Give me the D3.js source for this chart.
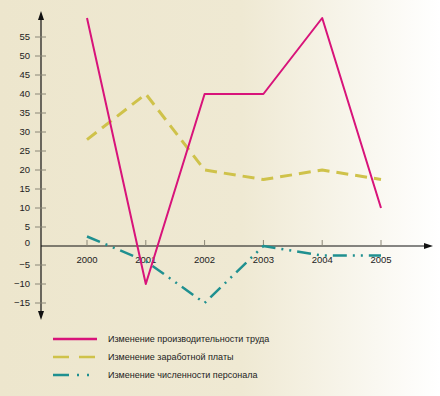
<!DOCTYPE html>
<html>
<head>
<meta charset="utf-8">
<script src="https://cdn.jsdelivr.net/npm/d3@7/dist/d3.min.js"></script>
<style>
  body { margin: 0; }
  svg { display: block; font-family: "Liberation Sans", Arial, sans-serif; }
</style>
</head>
<body>
<svg width="440" height="396"></svg>
<script>
var years = [2000, 2001, 2002, 2003, 2004, 2005];
var productivity = [60, -10, 40, 40, 60, 10];
var wages = [28, 40, 20, 17.5, 20, 17.5];
var personnel = [2.5, -4, -15, 0, -2.5, -2.5];
var yTicks = [-15, -10, -5, 0, 5, 10, 15, 20, 25, 30, 35, 40, 45, 50, 55];
var legendLabels = [
  'Изменение производительности труда',
  'Изменение заработной платы',
  'Изменение численности персонала'
];

var svg = d3.select('svg');

// background: beige fading to white on the right
var defs = svg.append('defs');
var grad = defs.append('linearGradient').attr('id', 'bg').attr('x1', 0).attr('x2', 1).attr('y1', 0).attr('y2', 0);
grad.append('stop').attr('offset', '0%').attr('stop-color', '#ede6cd');
grad.append('stop').attr('offset', '55%').attr('stop-color', '#efe9d3');
grad.append('stop').attr('offset', '100%').attr('stop-color', '#ffffff');
svg.append('rect').attr('width', 440).attr('height', 396).attr('fill', 'url(#bg)');

var x = d3.scaleLinear().domain([2000, 2005]).range([87, 381]);
var y = d3.scaleLinear().domain([0, 55]).range([246, 37]);
var axisX = 41;

// y axis line with arrows
svg.append('line')
  .attr('x1', axisX).attr('x2', axisX)
  .attr('y1', 14).attr('y2', 316)
  .attr('stroke', '#111').attr('stroke-width', 1.2);
svg.append('path').attr('d', 'M' + axisX + ',11 l-3,9 l6,0 z').attr('fill', '#111');
svg.append('path').attr('d', 'M' + axisX + ',320 l-3,-9 l6,0 z').attr('fill', '#111');

// x axis line with arrow
svg.append('line')
  .attr('x1', axisX).attr('x2', 428)
  .attr('y1', y(0)).attr('y2', y(0))
  .attr('stroke', '#111').attr('stroke-width', 1.2);
svg.append('path').attr('d', 'M433,' + y(0) + ' l-9,-3 l0,6 z').attr('fill', '#111');

// y ticks and labels
var yt = svg.append('g').selectAll('g').data(yTicks).enter().append('g');
yt.filter(function(d) { return d !== 0; }).append('line')
  .attr('x1', axisX - 6).attr('x2', axisX + 5)
  .attr('y1', function(d) { return y(d); }).attr('y2', function(d) { return y(d); })
  .attr('stroke', '#8a8676').attr('stroke-width', 1);
yt.append('text')
  .attr('x', 30)
  .attr('y', function(d) { return d === 0 ? y(d) - 3 : y(d); })
  .attr('dy', '0.35em')
  .attr('text-anchor', 'end')
  .attr('font-size', 9.5)
  .attr('fill', '#222')
  .text(function(d) { return d < 0 ? '\u2212' + Math.abs(d) : d; });

// x ticks and labels
var xt = svg.append('g').selectAll('g').data(years).enter().append('g');
xt.append('line')
  .attr('x1', function(d) { return x(d); }).attr('x2', function(d) { return x(d); })
  .attr('y1', y(0) - 6).attr('y2', y(0))
  .attr('stroke', '#8a8676').attr('stroke-width', 1);
xt.append('text')
  .attr('x', function(d) { return x(d); })
  .attr('y', y(0) + 17)
  .attr('text-anchor', 'middle')
  .attr('font-size', 9.5)
  .attr('fill', '#222')
  .text(function(d) { return d; });

var line = d3.line()
  .x(function(d, i) { return x(years[i]); })
  .y(function(d) { return y(d); });

var series = [
  { values: wages, color: '#cfc24a', width: 3, dash: '12,7' },
  { values: personnel, color: '#1f9090', width: 2.5, dash: '14,6,2,6,2,6' },
  { values: productivity, color: '#d8137a', width: 2, dash: null }
];

series.forEach(function(s) {
  svg.append('path')
    .datum(s.values)
    .attr('d', line)
    .attr('fill', 'none')
    .attr('stroke', s.color)
    .attr('stroke-width', s.width)
    .attr('stroke-linejoin', 'round')
    .attr('stroke-dasharray', s.dash);
});

// legend
var legendOrder = [series[2], series[0], series[1]];
var legendDash = [null, '16,10', '16,8,2,8,2,8'];
var lg = svg.append('g').selectAll('g').data(legendLabels).enter().append('g')
  .attr('transform', function(d, i) { return 'translate(0,' + (339 + i * 18) + ')'; });
lg.append('line')
  .attr('x1', 53).attr('x2', 97)
  .attr('stroke', function(d, i) { return legendOrder[i].color; })
  .attr('stroke-width', 2.5)
  .attr('stroke-dasharray', function(d, i) { return legendDash[i]; });
lg.append('text')
  .attr('x', 108)
  .attr('dy', '0.35em')
  .attr('font-size', 9)
  .attr('fill', '#222')
  .text(function(d) { return d; });
</script>
</body>
</html>
